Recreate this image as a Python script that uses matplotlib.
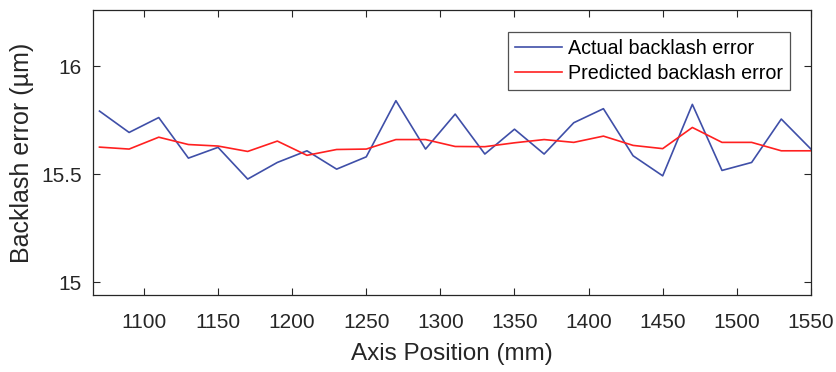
import matplotlib
matplotlib.use('Agg')
import matplotlib.pyplot as plt

# axis positions (mm)
position = list(range(1070, 1551, 20))

# actual backlash error (um)
actual = [15.792, 15.693, 15.762, 15.574, 15.624, 15.477, 15.554, 15.608, 15.523,
          15.580, 15.840, 15.616, 15.778, 15.593, 15.708, 15.593, 15.738, 15.803,
          15.585, 15.492, 15.823, 15.517, 15.554, 15.755, 15.616]

# predicted backlash error (um)
predicted = [15.625, 15.616, 15.671, 15.637, 15.630, 15.605, 15.653, 15.587, 15.614,
             15.616, 15.660, 15.660, 15.628, 15.627, 15.645, 15.660, 15.647, 15.676,
             15.633, 15.618, 15.716, 15.647, 15.647, 15.608, 15.608]

plt.rcParams['font.family'] = ['Liberation Sans', 'DejaVu Sans']

fig = plt.figure(figsize=(8.36, 3.72), dpi=100)
ax = fig.add_axes([0.111, 0.207, 0.859, 0.766])

ax.plot(position, actual, color='#3f4fa8', lw=1.2, label='Actual backlash error')
ax.plot(position, predicted, color='#ff2020', lw=1.2, label='Predicted backlash error')

ax.set_xlim(1065.5, 1550)
ax.set_ylim(14.94, 16.26)
ax.set_xticks(range(1100, 1551, 50))
ax.set_yticks([15, 15.5, 16])
ax.set_yticklabels(['15', '15.5', '16'])
ax.tick_params(direction='in', top=True, right=True, labelsize=15, colors='#262626',
               length=5, width=0.8)
ax.tick_params(axis='x', pad=13)
ax.tick_params(axis='y', pad=8)
for s in ax.spines.values():
    s.set_color('#262626')
    s.set_linewidth(0.9)

ax.set_xlabel('Axis Position (mm)', fontsize=17.5, color='#262626', labelpad=8)
ax.set_ylabel('Backlash error (µm)', fontsize=18, color='#262626', labelpad=5)

leg = ax.legend(loc='upper right', bbox_to_anchor=(0.971, 0.922), fontsize=14.2,
                frameon=True, fancybox=False, handlelength=2.4, borderpad=0.35,
                labelspacing=0.3, handletextpad=0.3, borderaxespad=0)
leg.get_frame().set_edgecolor('#262626')
leg.get_frame().set_linewidth(0.9)

fig.savefig('out.png', dpi=100)
